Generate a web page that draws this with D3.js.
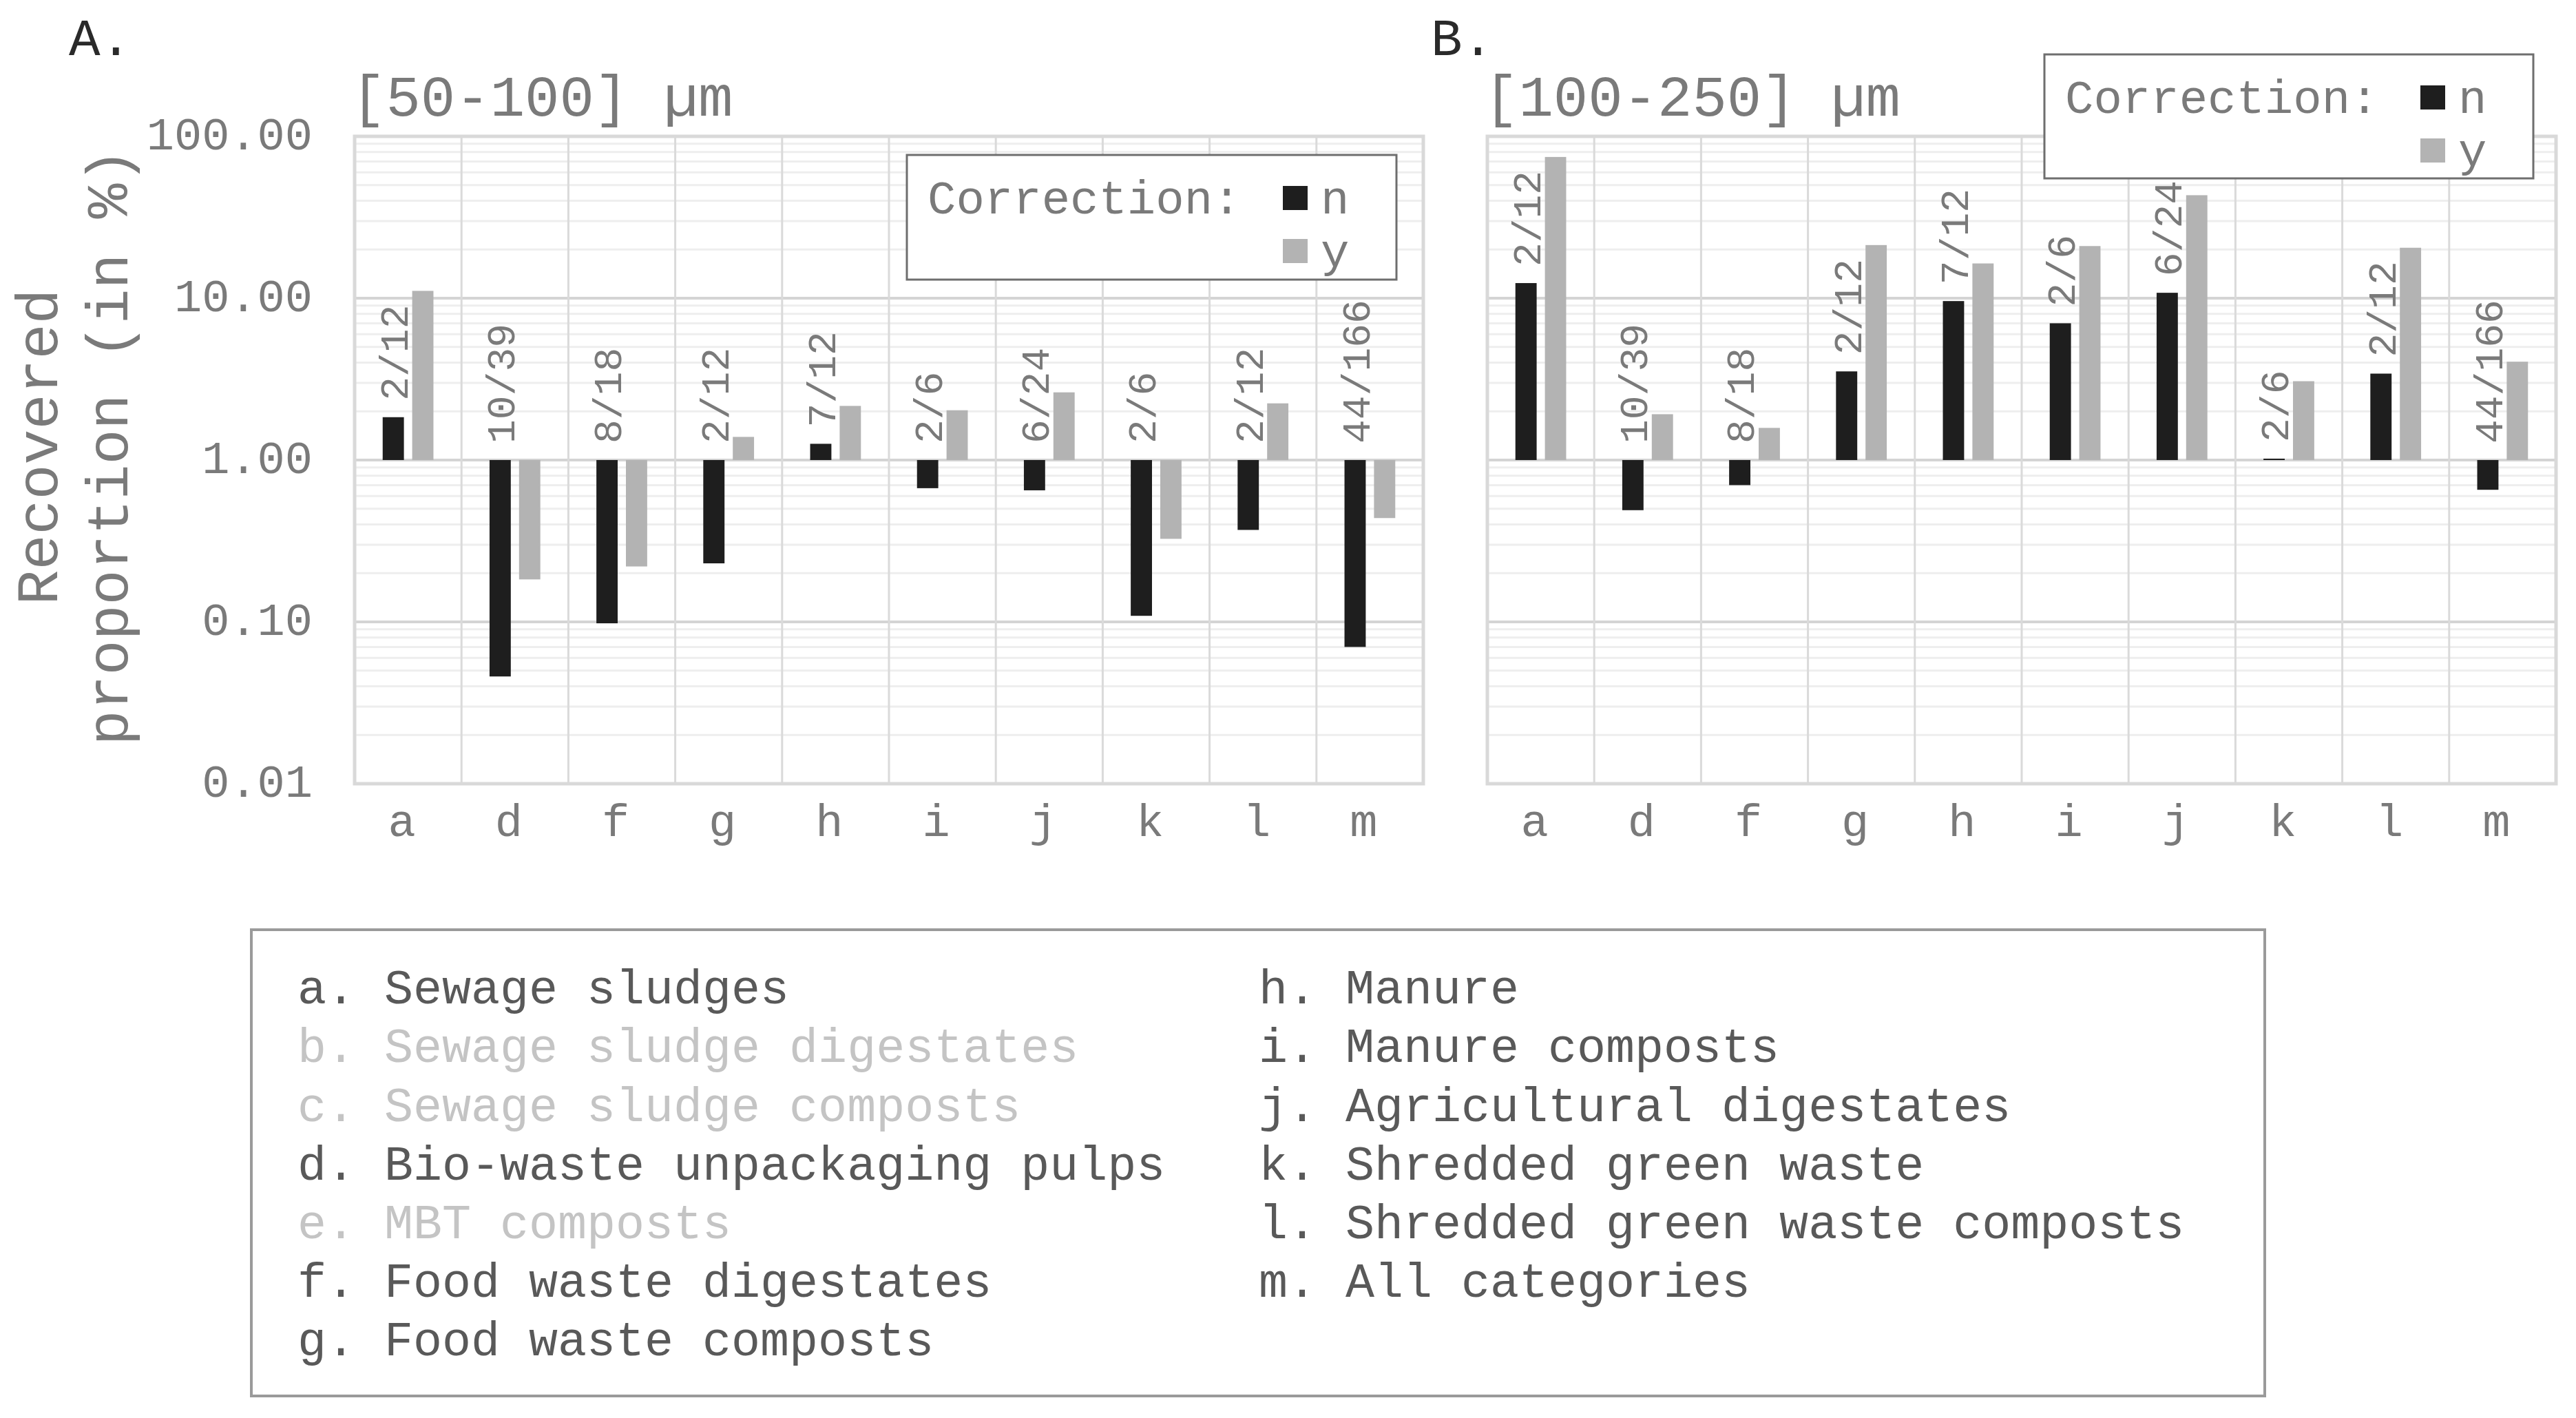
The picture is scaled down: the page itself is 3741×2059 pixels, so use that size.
<!DOCTYPE html>
<html><head><meta charset="utf-8">
<script src="https://cdn.jsdelivr.net/npm/d3@7"></script>
<style>body{margin:0;background:#fff}</style>
</head><body><svg id="c" width="3741" height="2059"></svg>
<script>
const categories = ["a","d","f","g","h","i","j","k","l","m"];
const countLabels = ["2/12","10/39","8/18","2/12","7/12","2/6","6/24","2/6","2/12","44/166"];
const panelA_n = [1.84, 0.046, 0.098, 0.23, 1.26, 0.67, 0.65, 0.109, 0.37, 0.07];
const panelA_y = [11.1, 0.183, 0.22, 1.39, 2.16, 2.03, 2.62, 0.326, 2.24, 0.438];
const panelB_n = [12.4, 0.49, 0.70, 3.53, 9.6, 7.0, 10.8, 1.02, 3.42, 0.655];
const panelB_y = [74.6, 1.92, 1.58, 21.3, 16.4, 21.0, 43.3, 3.07, 20.5, 4.05];
const yTickValues = [0.01, 0.1, 1, 10, 100];
const yTickLabels = ["0.01", "0.10", "1.00", "10.00", "100.00"];
const panelTitles = ["[50-100] µm", "[100-250] µm"];
const panelLetters = ["A.", "B."];
const seriesNames = ["n", "y"];
const legendLeft = ["a. Sewage sludges","b. Sewage sludge digestates","c. Sewage sludge composts","d. Bio-waste unpackaging pulps","e. MBT composts","f. Food waste digestates","g. Food waste composts"];
const legendLeftFaded = [false, true, true, false, true, false, false];
const legendRight = ["h. Manure","i. Manure composts","j. Agricultural digestates","k. Shredded green waste","l. Shredded green waste composts","m. All categories"];

const FONT = "'Liberation Mono','Courier New',monospace";
const svg = d3.select("#c").style("font-family", FONT);
const colN = "#1e1e1e", colY = "#b3b3b3", txt = "#7a7a7a";

const plotTop = 198, plotBottom = 1138;
const y = d3.scaleLog().domain([0.01, 100]).range([plotBottom, plotTop]);

function panel(x0, x1, nVals, yVals, idx, legendBox, showY) {
  const g = svg.append("g");
  const x = d3.scaleBand().domain(categories).range([x0, x1]).padding(0);
  const inner = d3.scaleBand().domain(seriesNames).range([0, x.bandwidth()]).paddingInner(0.28).paddingOuter(0.95);
  const minor = [];
  for (let e = -2; e < 2; e++) for (let m = 2; m <= 9; m++) minor.push(m * Math.pow(10, e));
  g.selectAll(".mn").data(minor).join("line")
    .attr("x1", x0).attr("x2", x1).attr("y1", d => y(d)).attr("y2", d => y(d))
    .attr("stroke", "#eeeeee").attr("stroke-width", 3);
  g.selectAll(".mj").data(yTickValues).join("line")
    .attr("x1", x0).attr("x2", x1).attr("y1", d => y(d)).attr("y2", d => y(d))
    .attr("stroke", "#d4d4d4").attr("stroke-width", 4);
  g.selectAll(".vc").data(categories.slice(1)).join("line")
    .attr("x1", d => x(d)).attr("x2", d => x(d)).attr("y1", plotTop).attr("y2", plotBottom)
    .attr("stroke", "#dadada").attr("stroke-width", 3);
  g.append("rect").attr("x", x0).attr("y", plotTop).attr("width", x1 - x0).attr("height", plotBottom - plotTop)
    .attr("fill", "none").attr("stroke", "#d9d9d9").attr("stroke-width", 5);
  const data = categories.map((c, i) => ({c, n: nVals[i], yv: yVals[i], lab: countLabels[i]}));
  g.selectAll(".bn").data(data).join("rect")
    .attr("x", d => x(d.c) + inner("n")).attr("width", inner.bandwidth())
    .attr("y", d => Math.min(y(d.n), y(1))).attr("height", d => Math.abs(y(d.n) - y(1)))
    .attr("fill", colN);
  g.selectAll(".by").data(data).join("rect")
    .attr("x", d => x(d.c) + inner("y")).attr("width", inner.bandwidth())
    .attr("y", d => Math.min(y(d.yv), y(1))).attr("height", d => Math.abs(y(d.yv) - y(1)))
    .attr("fill", colY);
  g.selectAll(".lb").data(data).join("text")
    .attr("transform", d => `translate(${x(d.c) + inner("n") + inner.bandwidth()/2},${Math.min(y(d.n), y(1)) - 24}) rotate(-90)`)
    .attr("dy", "0.36em").attr("font-size", 58).attr("fill", txt).text(d => d.lab);
  g.selectAll(".xl").data(categories).join("text")
    .attr("x", d => x(d) + x.bandwidth()/2 - 9).attr("y", 1214).attr("text-anchor", "middle")
    .attr("font-size", 67).attr("fill", txt).text(d => d);
  if (showY) {
    g.selectAll(".yl").data(yTickValues).join("text")
      .attr("x", 454).attr("y", d => y(d) - 5).attr("dy", "0.36em").attr("text-anchor", "end")
      .attr("font-size", 67).attr("fill", txt).text((d, i) => yTickLabels[i]);
  }
  g.append("text").attr("x", x0 - 5).attr("y", 168).attr("font-size", 84).attr("fill", txt).text(panelTitles[idx]);
  const L = legendBox;
  const lg = svg.append("g");
  lg.append("rect").attr("x", L.x).attr("y", L.y).attr("width", L.w).attr("height", L.h)
    .attr("fill", "#fff").attr("stroke", "#6e6e6e").attr("stroke-width", 3);
  lg.append("text").attr("x", L.x + 30).attr("y", L.y + 60).attr("dy", "0.36em").attr("font-size", 69).attr("fill", txt).text("Correction:");
  seriesNames.forEach((s, i) => {
    lg.append("rect").attr("x", L.x + 546).attr("y", L.y + 45 + i * 77).attr("width", 36).attr("height", 35).attr("fill", i ? colY : colN);
    lg.append("text").attr("x", L.x + 601).attr("y", L.y + 60 + i * 77).attr("dy", "0.36em").attr("font-size", 69).attr("fill", txt).text(s);
  });
}

panel(515, 2067, panelA_n, panelA_y, 0, {x: 1317, y: 225, w: 711, h: 181}, true);
panel(2160, 3712, panelB_n, panelB_y, 1, {x: 2969, y: 79, w: 710, h: 180}, false);

svg.append("text").attr("x", 100).attr("y", 80).attr("font-size", 76).attr("fill", "#2a2a2a").text(panelLetters[0]);
svg.append("text").attr("x", 2078).attr("y", 80).attr("font-size", 76).attr("fill", "#2a2a2a").text(panelLetters[1]);

const yt = svg.append("text").attr("transform", "translate(52,649) rotate(-90)").attr("text-anchor", "middle")
  .attr("font-size", 85).attr("fill", txt);
yt.append("tspan").attr("x", 0).attr("dy", "0.36em").text("Recovered");
yt.append("tspan").attr("x", 0).attr("dy", "1.21em").text("proportion (in %)");

svg.append("rect").attr("x", 365).attr("y", 1350).attr("width", 2924).attr("height", 677)
  .attr("fill", "none").attr("stroke", "#9a9a9a").attr("stroke-width", 4);
const rowY = d3.scaleLinear().domain([0, 6]).range([1432, 1943]);
svg.selectAll(".ll").data(legendLeft).join("text")
  .attr("x", 432).attr("y", (d, i) => rowY(i)).attr("dy", "0.36em").attr("font-size", 70)
  .attr("fill", (d, i) => legendLeftFaded[i] ? "#c4c4c4" : "#595959").text(d => d);
svg.selectAll(".lr").data(legendRight).join("text")
  .attr("x", 1828).attr("y", (d, i) => rowY(i)).attr("dy", "0.36em").attr("font-size", 70)
  .attr("fill", "#595959").text(d => d);
</script>
</body></html>
